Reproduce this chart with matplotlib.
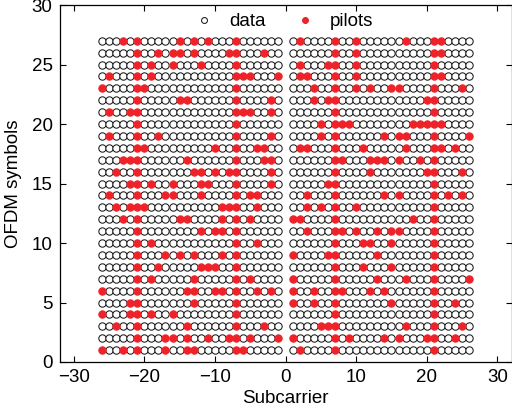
import matplotlib
matplotlib.use("Agg")
import matplotlib.pyplot as plt

plt.rcParams['font.family'] = ['Liberation Sans', 'DejaVu Sans']

# used subcarriers (DC removed) and OFDM symbol indices
subcarriers = [c for c in range(-26, 27) if c != 0]
symbols = list(range(1, 28))

# pilot subcarriers per OFDM symbol (symbol 1 first)
pilots_by_symbol = [
    [-26, -23, -21, -17, -14, -13, -7, -6, 2, 7, 21],
    [-21, -17, -16, -14, -11, -8, -7, -5, -1, 1, 7, 9, 14, 16, 20, 21, 24],
    [-24, -21, -14, -7, -3, 5, 6, 7, 17, 21, 25],
    [-26, -22, -21, -19, -16, -7, 7, 21],
    [-22, -21, -13, -7, 1, 4, 7, 15, 21, 24],
    [-26, -21, -14, -13, -10, -9, -7, -4, -2, 1, 4, 7, 8, 12, 14, 21],
    [-21, -19, -13, -7, -5, 1, 7, 13, 17, 21, 26],
    [-21, -18, -12, -11, -10, -7, 7, 11, 15, 21],
    [-21, -17, -15, -13, -9, -7, 1, 6, 7, 13, 21],
    [-21, -19, -7, -4, 7, 11, 12, 15, 21],
    [-21, -12, -10, -9, -7, 3, 7, 8, 10, 13, 15, 16, 21],
    [-23, -21, -15, -14, -9, -7, -5, 1, 2, 7, 18, 21],
    [-24, -22, -21, -20, -9, -8, -7, -4, 3, 5, 7, 10, 21],
    [-25, -21, -17, -16, -12, -7, -5, -4, 3, 7, 14, 16, 21, 23, 25],
    [-22, -21, -19, -16, -12, -11, -7, -2, 6, 7, 21],
    [-24, -21, -13, -12, -10, -8, -7, -2, 7, 12, 20, 21, 25],
    [-23, -22, -21, -14, -7, -3, -2, 7, 8, 12, 13, 14, 16, 19, 21],
    [-21, -20, -10, -7, -4, -3, 2, 3, 7, 11, 17, 21, 22, 24],
    [-25, -21, -18, -7, -2, 5, 7, 14, 16, 17, 21, 26],
    [-21, -7, 5, 7, 8, 9, 18, 19, 20, 21, 22],
    [-25, -22, -21, -7, -6, -5, -2, 7, 21],
    [-21, -15, -14, -7, -2, 4, 6, 7, 20, 21],
    [-26, -21, -20, -7, 4, 7, 10, 12, 15, 16, 21, 25],
    [-25, -21, -19, -7, -6, -5, -1, 2, 3, 7, 10, 21, 22],
    [-21, -19, -16, -12, -7, 2, 6, 7, 10, 21],
    [-21, -18, -16, -15, -13, -8, -7, -3, 7, 10, 21, 22],
    [-23, -21, -15, -13, -11, -7, 2, 7, 10, 17, 21, 22],
]

data_x, data_y, pil_x, pil_y = [], [], [], []
for sym, pilots in zip(symbols, pilots_by_symbol):
    for sc in subcarriers:
        if sc in pilots:
            pil_x.append(sc)
            pil_y.append(sym)
        else:
            data_x.append(sc)
            data_y.append(sym)

fig = plt.figure(figsize=(5.12, 4.12), dpi=100)
ax = fig.add_axes([59.5 / 512, 1 - 362 / 412, (511.5 - 59.5) / 512, (362 - 5) / 412])

red = '#ee2229'
ax.plot(data_x, data_y, 'o', ls='none', ms=5.3, mfc='white', mec='#1a1a1a', mew=0.75, label='data')
ax.plot(pil_x, pil_y, 'o', ls='none', ms=5.3, mfc=red, mec=red, mew=0.75, label='pilots')

ax.set_xlim(-32, 32)
ax.set_ylim(0, 30)
ax.set_xticks(range(-30, 31, 10))
ax.set_yticks(range(0, 31, 5))
ax.tick_params(direction='in', top=True, right=True, length=4, width=0.8, labelsize=13.5, pad=5)
for s in ax.spines.values():
    s.set_linewidth(0.9)

ax.set_xlabel('Subcarrier', fontsize=13.5, labelpad=3)
ax.set_ylabel('OFDM symbols', fontsize=13.5, labelpad=7)

ax.legend(loc='upper center', bbox_to_anchor=(0.487, 1.025), ncol=2, frameon=False,
          fontsize=13.5, handletextpad=0.33, columnspacing=1.1, handlelength=2.0,
          markerscale=0.8)

fig.savefig('out.png', dpi=100)
